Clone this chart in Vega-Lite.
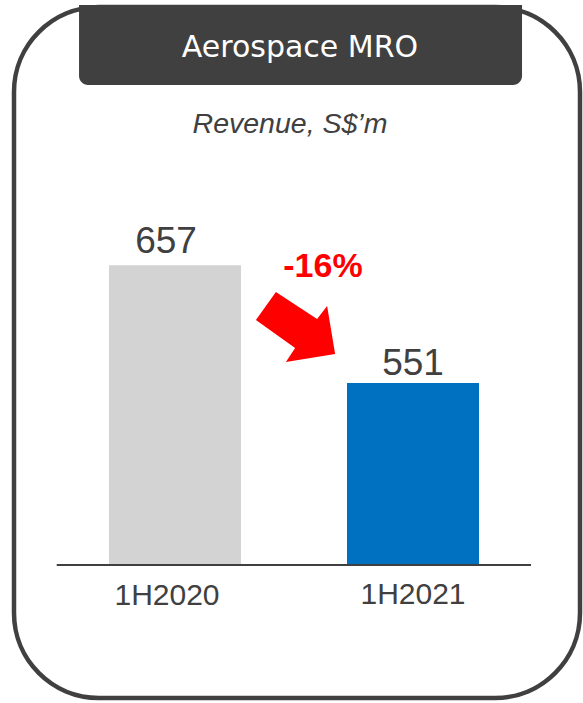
{
  "$schema": "https://vega.github.io/schema/vega-lite/v6.json",
  "width": 566,
  "height": 691,
  "autosize": {"type": "none"},
  "padding": {"left": 14, "top": 7, "right": 3, "bottom": 5},
  "background": "white",
  "config": {
    "view": {"stroke": "#404040", "strokeWidth": 4.5, "cornerRadius": 85, "fill": "white"},
    "axis": {"disable": true}
  },
  "data": {"values": [
    {"period": "1H2020", "revenue": 657},
    {"period": "1H2021", "revenue": 551}
  ]},
  "layer": [
    {
      "data": {"values": [{"from": "1H2020", "to": "1H2021"}]},
      "mark": {"type": "rect", "color": "#404040", "cornerRadiusBottomLeft": 9, "cornerRadiusBottomRight": 9},
      "encoding": {
        "x": {"field": "from", "type": "nominal", "bandPosition": -0.227, "axis": null},
        "x2": {"field": "to", "bandPosition": 1.326},
        "y": {"datum": 819.4, "type": "quantitative", "axis": null},
        "y2": {"datum": 891.5}
      }
    },
    {
      "data": {"values": [{"period": "1H2020"}]},
      "mark": {"type": "text", "text": "Aerospace MRO", "color": "white", "font": "DejaVu Sans", "fontSize": 30, "align": "center", "baseline": "alphabetic"},
      "encoding": {
        "x": {"field": "period", "type": "nominal", "bandPosition": 1.447, "axis": null},
        "y": {"datum": 844.4, "type": "quantitative", "axis": null}
      }
    },
    {
      "data": {"values": [{"period": "1H2020"}]},
      "mark": {"type": "text", "text": "Revenue, S$’m", "color": "#404040", "font": "Liberation Sans", "fontStyle": "italic", "fontSize": 28.5, "align": "center", "baseline": "alphabetic"},
      "encoding": {
        "x": {"field": "period", "type": "nominal", "bandPosition": 1.371, "axis": null},
        "y": {"datum": 775.9, "type": "quantitative", "axis": null}
      }
    },
    {
      "mark": {"type": "bar"},
      "encoding": {
        "x": {"field": "period", "type": "nominal", "axis": null,
              "scale": {"domain": ["1H2020", "1H2021"], "range": [95, 465], "paddingInner": 0.4454, "paddingOuter": 0}},
        "y": {"field": "revenue", "type": "quantitative", "axis": null,
              "scale": {"domain": [267.2, 889.7], "nice": false, "zero": false}},
        "y2": {"datum": 387},
        "color": {"field": "period", "type": "nominal", "legend": null,
                  "scale": {"domain": ["1H2020", "1H2021"], "range": ["#D3D3D3", "#0070C0"]}}
      }
    },
    {
      "data": {"values": [{"from": "1H2020", "to": "1H2021"}]},
      "mark": {"type": "rect", "color": "#404040"},
      "encoding": {
        "x": {"field": "from", "type": "nominal", "bandPosition": -0.396, "axis": null},
        "x2": {"field": "to", "bandPosition": 1.394},
        "y": {"datum": 387.9, "type": "quantitative", "axis": null},
        "y2": {"datum": 386.1}
      }
    },
    {
      "transform": [{"filter": "datum.period === '1H2020'"}],
      "mark": {"type": "text", "color": "#404040", "font": "Liberation Sans", "fontSize": 37, "align": "center", "baseline": "alphabetic", "dx": -9, "dy": -12.5},
      "encoding": {
        "x": {"field": "period", "type": "nominal", "axis": null},
        "y": {"field": "revenue", "type": "quantitative", "axis": null},
        "text": {"field": "revenue", "type": "quantitative"}
      }
    },
    {
      "transform": [{"filter": "datum.period === '1H2021'"}],
      "mark": {"type": "text", "color": "#404040", "font": "Liberation Sans", "fontSize": 37, "align": "center", "baseline": "alphabetic", "dx": 0, "dy": -7.5},
      "encoding": {
        "x": {"field": "period", "type": "nominal", "axis": null},
        "y": {"field": "revenue", "type": "quantitative", "axis": null},
        "text": {"field": "revenue", "type": "quantitative"}
      }
    },
    {
      "transform": [{"filter": "datum.period === '1H2020'"}],
      "mark": {"type": "text", "color": "#404040", "font": "Liberation Sans", "fontSize": 30, "align": "center", "baseline": "alphabetic", "dx": -8},
      "encoding": {
        "x": {"field": "period", "type": "nominal", "axis": null},
        "y": {"datum": 351.0, "type": "quantitative", "axis": null},
        "text": {"field": "period", "type": "nominal"}
      }
    },
    {
      "transform": [{"filter": "datum.period === '1H2021'"}],
      "mark": {"type": "text", "color": "#404040", "font": "Liberation Sans", "fontSize": 30, "align": "center", "baseline": "alphabetic", "dx": 0},
      "encoding": {
        "x": {"field": "period", "type": "nominal", "axis": null},
        "y": {"datum": 351.9, "type": "quantitative", "axis": null},
        "text": {"field": "period", "type": "nominal"}
      }
    },
    {
      "data": {"values": [{"period": "1H2020", "change": -16}]},
      "mark": {"type": "point", "shape": "M -0.49 -0.875 L 0.54 -0.2 L 0.79 -0.525 L 0.99 0.675 L -0.24 0.875 L -0.01 0.525 L -0.99 -0.175 Z", "filled": true, "color": "#FF0000", "opacity": 1, "size": 6400, "strokeWidth": 0},
      "encoding": {
        "x": {"field": "period", "type": "nominal", "bandPosition": 1.413, "axis": null},
        "y": {"datum": 601.4, "type": "quantitative", "axis": null}
      }
    },
    {
      "data": {"values": [{"period": "1H2020", "change": -16}]},
      "mark": {"type": "text", "text": "-16%", "color": "#FF0000", "font": "Liberation Sans", "fontWeight": "bold", "fontSize": 34, "align": "center", "baseline": "alphabetic"},
      "encoding": {
        "x": {"field": "period", "type": "nominal", "bandPosition": 1.621, "axis": null},
        "y": {"datum": 646.2, "type": "quantitative", "axis": null}
      }
    }
  ]
}
